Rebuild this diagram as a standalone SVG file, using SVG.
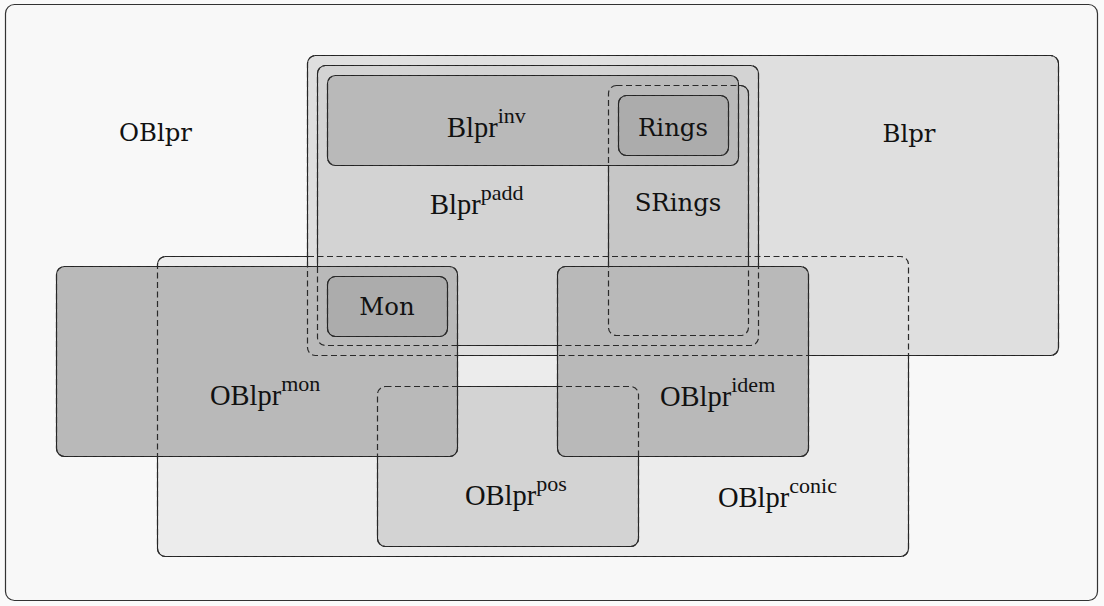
<svg xmlns="http://www.w3.org/2000/svg" width="1104" height="606" viewBox="0 0 1104 606">
<style>
.b{stroke:#222;stroke-width:1.1}
.d{fill:none;stroke:#2a2a2a;stroke-width:1.2;stroke-dasharray:6 3.5}
.p{font-family:"DejaVu Serif",serif;font-size:24.4px;fill:#111;text-anchor:middle}
.s{font-family:"Liberation Serif","Times New Roman",serif;font-size:28.5px;fill:#111}
.sup{font-size:22px}
</style>
<rect x="0" y="0" width="1104" height="606" fill="#fafafa"/>
<g id="frame"><rect x="5.5" y="4.5" width="1092" height="596" rx="9" fill="#f8f8f8" stroke="#333" stroke-width="1.2"/></g>
<g id="OBlpr-label"><text class="p" x="155.5" y="141">OBlpr</text></g>
<g id="conic"><rect class="b" x="157.5" y="256.5" width="751" height="300" rx="8" fill="#ececec"/>
<text class="s" x="718" y="507">OBlpr<tspan class="sup" dy="-14">conic</tspan></text></g>
<g id="Blpr"><rect class="b" x="307.5" y="55.5" width="751" height="300" rx="8" fill="#dfdfdf"/>
<text class="p" x="909" y="142">Blpr</text></g>
<g id="padd"><rect class="b" x="317.5" y="65.5" width="441" height="280" rx="8" fill="#d3d3d3"/>
<text class="s" x="430" y="214">Blpr<tspan class="sup" dy="-14">padd</tspan></text></g>
<g id="SRings"><rect class="b" x="608.5" y="85.5" width="140" height="250" rx="8" fill="#c6c6c6"/>
<text class="p" x="678" y="211">SRings</text></g>
<g id="inv"><rect class="b" x="327.5" y="75.5" width="411" height="90" rx="8" fill="#b9b9b9"/>
<text class="s" x="447" y="137">Blpr<tspan class="sup" dy="-14">inv</tspan></text></g>
<g id="Rings"><rect class="b" x="618.5" y="95.5" width="110" height="60" rx="8" fill="#acacac"/>
<text class="p" x="673" y="136">Rings</text></g>
<g id="pos"><rect class="b" x="377.5" y="386.5" width="261" height="160" rx="8" fill="#d3d3d3"/>
<text class="s" x="465" y="505">OBlpr<tspan class="sup" dy="-14">pos</tspan></text></g>
<g id="mon"><rect class="b" x="56.5" y="266.5" width="401" height="190" rx="8" fill="#b9b9b9"/>
<text class="s" x="210" y="405">OBlpr<tspan class="sup" dy="-14">mon</tspan></text></g>
<g id="Mon"><rect class="b" x="327.5" y="276.5" width="120" height="60" rx="8" fill="#acacac"/>
<text class="p" x="387" y="315">Mon</text></g>
<g id="idem"><rect class="b" x="557.5" y="266.5" width="251" height="190" rx="8" fill="#b9b9b9"/>
<text class="s" x="660" y="406">OBlpr<tspan class="sup" dy="-14">idem</tspan></text></g>
<g id="outlines">
<rect class="d" x="157.5" y="256.5" width="751" height="300" rx="8"/>
<rect class="d" x="307.5" y="55.5" width="751" height="300" rx="8"/>
<rect class="d" x="317.5" y="65.5" width="441" height="280" rx="8"/>
<rect class="d" x="608.5" y="85.5" width="140" height="250" rx="8"/>
<rect class="d" x="327.5" y="75.5" width="411" height="90" rx="8"/>
<rect class="d" x="618.5" y="95.5" width="110" height="60" rx="8"/>
<rect class="d" x="377.5" y="386.5" width="261" height="160" rx="8"/>
<rect class="d" x="56.5" y="266.5" width="401" height="190" rx="8"/>
<rect class="d" x="327.5" y="276.5" width="120" height="60" rx="8"/>
<rect class="d" x="557.5" y="266.5" width="251" height="190" rx="8"/>
</g>
</svg>
